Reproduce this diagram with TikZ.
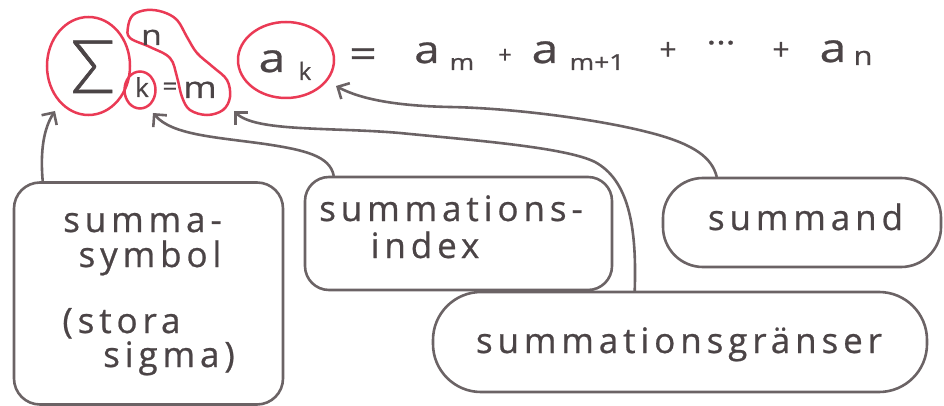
\documentclass[tikz,border=0pt]{standalone}
\usepackage{fontspec}
\setmainfont[FakeBold=0.7]{Open Sans}
\newfontfamily\handfont[LetterSpace=14,FakeBold=0.7]{Open Sans}
\newfontfamily\thinfont[UprightFont=* Light,FakeBold=0.8]{Lato}
\usetikzlibrary{arrows.meta,shapes.geometric,calc}
\definecolor{ink}{HTML}{6B6365}
\definecolor{txt}{HTML}{4B4446}
\definecolor{marker}{HTML}{EA3A55}
\newcommand\wide[1]{\scalebox{1.2}[1]{#1}}
\begin{document}
\begin{tikzpicture}[x=1pt,y=-1pt,
  pen/.style={draw=ink,line width=2.6pt,line join=round},
  hl/.style={draw=marker,line width=2.5pt},
  box/.style={pen,rectangle,rounded corners=#1,inner sep=0pt},
  box/.default=26pt,
  ring/.style={hl,ellipse,inner sep=0pt,text=txt},
  sym/.style={inner sep=0pt,text=txt},
  lbl/.style={inner sep=0pt,text=txt,anchor=base,font=\handfont\fontsize{35}{35}\selectfont},
  arr/.style={pen,line cap=round,-{Straight Barb[length=9pt,width=18pt,line width=2.6pt]}},
]
\useasboundingbox (0,0) rectangle (944,406);

% ---- the sum with its highlighted parts
\node[ring,minimum width=83pt,minimum height=98pt] (sigring) at (88.5,66) {};
\node[sym,anchor=base,font=\thinfont\fontsize{74}{74}\selectfont] (sig) at (93,93) {Σ};
\draw[hl] plot[smooth cycle,tension=0.6] coordinates {
  (130,38) (150,47) (170,58) (177,77) (182,97) (190,110) (207,115)
  (223,110) (230,97) (227,80) (213,67) (197,53) (187,37) (177,20)
  (163,12) (147,10) (133,15) (128,27)};
\node[ring,minimum width=31pt,minimum height=37pt] (kring) at (140,90) {};
\node[sym,anchor=base,font=\fontsize{26}{26}\selectfont] (lowk) at (142,97) {k};
\node[sym,anchor=base,font=\fontsize{28}{28}\selectfont] (upper) at (151.5,45) {\wide{n}};
\node[sym,font=\fontsize{26}{26}\selectfont] (loweq) at (170,89) {=};
\node[sym,anchor=base,font=\fontsize{30}{30}\selectfont] (lower) at (200,98) {\wide{m}};

\node[ring,minimum width=96pt,minimum height=76pt] (akring) at (286,60) {};
\node[sym,anchor=base,font=\fontsize{40}{40}\selectfont] (ak) at (272,72) {\wide{a}};
\node[sym,anchor=base,font=\fontsize{24}{24}\selectfont] (aksub) at (305,80) {k};

% ---- the expanded sum
\node[sym,font=\fontsize{40}{40}\selectfont] (eq) at (363,58) {\wide{=}};
\node[sym,anchor=base,font=\fontsize{38}{38}\selectfont] (am) at (427,63) {\wide{a}};
\node[sym,anchor=base,font=\fontsize{22}{22}\selectfont] (amsub) at (462,70) {\wide{m}};
\node[sym,font=\fontsize{24}{24}\selectfont] (plusa) at (505,56) {+};
\node[sym,anchor=base,font=\fontsize{40}{40}\selectfont] (amm) at (545,63) {\wide{a}};
\node[sym,anchor=base,font=\fontsize{22}{22}\selectfont] (ammsub) at (597,70) {\wide{m+1}};
\node[sym,font=\fontsize{30}{30}\selectfont] (plusb) at (668,51) {+};
\node[sym,font=\fontsize{30}{30}\selectfont] (dots) at (721,47) {\wide{···}};
\node[sym,font=\fontsize{30}{30}\selectfont] (plusc) at (781,51) {+};
\node[sym,anchor=base,font=\fontsize{40}{40}\selectfont] (an) at (833,62) {\wide{a}};
\node[sym,anchor=base,font=\fontsize{26}{26}\selectfont] (ansub) at (863,65) {\wide{n}};

% ---- explanation boxes
\node[box,minimum width=269pt,minimum height=222pt] (symbox) at (148.5,293.5) {};
\node[box=24pt,minimum width=307pt,minimum height=113pt] (idxbox) at (458.5,233.5) {};
\node[box=40pt,minimum width=278pt,minimum height=89pt] (sumbox) at (802,222.5) {};
\node[box=48pt,minimum width=494pt,minimum height=100pt] (limbox) at (680,342) {};

\node[lbl] (symA) at (142.5,232) {summa-};
\node[lbl] (symB) at (150,267) {symbol};
\node[lbl] (symC) at (121.5,333) {(stora};
\node[lbl] (symD) at (169,367) {sigma)};
\node[lbl] (idxA) at (451,221) {summations-};
\node[lbl] (idxB) at (425,258) {index};
\node[lbl] (sumA) at (805.5,230) {summand};
\node[lbl] (limA) at (679,353) {summationsgränser};

% ---- arrow tips
\coordinate (tipsig) at (55,111);
\coordinate (tipk) at (153,113);
\coordinate (tipm) at (234,111);
\coordinate (tipak) at (336,86);

% ---- connectors
\draw[arr] ($(symbox.north west)+(30,0)$) .. controls (40,150) and (44,128) .. (tipsig);
\draw[arr] ($(idxbox.north west)+(30,0)$) .. controls (330,156) and (305,150) .. (265,144)
  .. controls (215,137) and (172,135) .. (tipk);
\draw[arr] ($(limbox.north west)+(203,0)$) .. controls (637,225) and (628,180) .. (595,162)
  .. controls (565,147) and (470,140) .. (400,133)
  .. controls (330,127) and (255,132) .. (tipm);
\draw[arr] ($(sumbox.north west)+(55,0)$) .. controls (712,158) and (695,145) .. (655,134)
  .. controls (600,119) and (510,108) .. (450,107)
  .. controls (400,106) and (362,100) .. (tipak);
\end{tikzpicture}
\end{document}
